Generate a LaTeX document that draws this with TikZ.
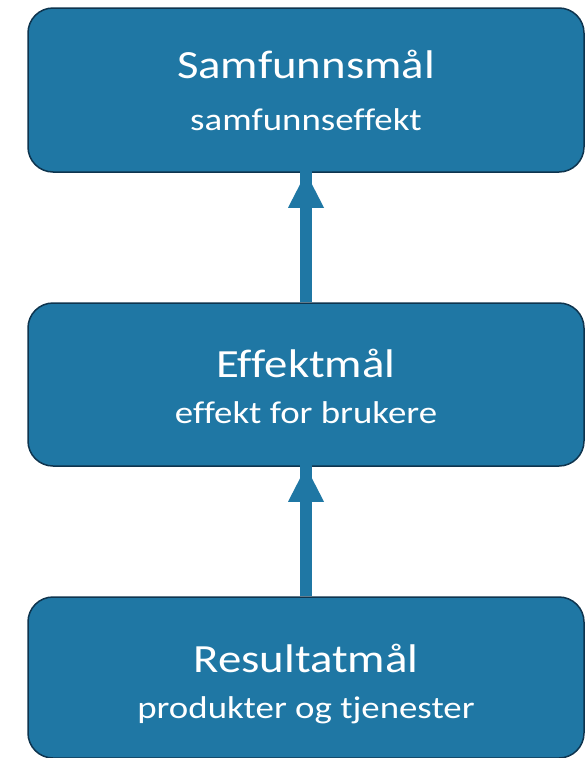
\documentclass[tikz,border=0pt]{standalone}
\usepackage{fontspec}
\setmainfont[Ligatures=NoCommon, FakeStretch=1.17]{Carlito}
\definecolor{boxfill}{RGB}{31,119,164}
\definecolor{boxline}{RGB}{14,52,78}
\tikzset{
  goalbox/.style={draw=boxline, line width=1.5pt, fill=boxfill, rounded corners=25pt,
    minimum width=556pt, inner sep=0pt, anchor=center},
  titletext/.style={text=white, anchor=base, inner sep=0pt, font=\fontsize{40}{40}\selectfont},
  subtext/.style={text=white, anchor=base, inner sep=0pt, font=\fontsize{31.5}{31.5}\selectfont},
  shaft/.style={draw=boxfill, line width=12pt},
  head/.style={fill=boxfill}
}
\begin{document}
\begin{tikzpicture}[x=1pt,y=-1pt]
\useasboundingbox (0,0) rectangle (585,758);
% three goal levels
\node[goalbox, minimum height=164pt] (samf) at (306,90) {};
\node[goalbox, minimum height=163pt] (eff) at (306,384.5) {};
\node[goalbox, minimum height=161pt] (res) at (306,677.5) {};
% labels
\node[titletext] (samfT) at (306,78.5) {Samfunnsmål};
\node[subtext] (samfS) at (306,130.5) {samfunnseffekt};
\node[titletext] (effT) at (306,377) {Effektmål};
\node[subtext] (effS) at (306,423) {effekt for brukere};
\node[titletext] (resT) at (306,672) {Resultatmål};
\node[subtext] (resS) at (306,718) {produkter og tjenester};
% upward arrows between levels
\draw[shaft] (eff.north) -- ([yshift=34pt]samf.south);
\fill[head] (samf.south) -- ++(-18,35) -- ++(36,0) -- cycle;
\draw[shaft] (res.north) -- ([yshift=34pt]eff.south);
\fill[head] (eff.south) -- ++(-18,35) -- ++(36,0) -- cycle;
\end{tikzpicture}
\end{document}
